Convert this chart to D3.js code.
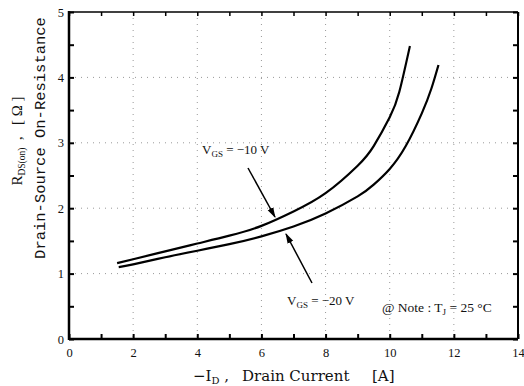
<!DOCTYPE html>
<html>
<head>
<meta charset="utf-8">
<script src="https://cdn.jsdelivr.net/npm/d3@7"></script>
<style>
  body { margin: 0; background: #fff; }
  text { fill: #111; }
</style>
</head>
<body>
<script>
// data
var vgs10X = [1.5, 2, 3, 4, 5, 6, 7, 8, 9, 9.5, 10, 10.3, 10.63];
var vgs10Y = [1.16, 1.22, 1.34, 1.46, 1.58, 1.73, 1.95, 2.23, 2.65, 2.95, 3.39, 3.78, 4.48];
var vgs20X = [1.55, 2, 3, 4, 5, 6, 7, 8, 9, 9.5, 10, 10.5, 11, 11.3, 11.52];
var vgs20Y = [1.1, 1.14, 1.25, 1.35, 1.45, 1.57, 1.72, 1.92, 2.18, 2.36, 2.6, 2.95, 3.45, 3.83, 4.19];
var xTicks = [0, 2, 4, 6, 8, 10, 12, 14];
var yTicks = [0, 1, 2, 3, 4, 5];

var W = 524, H = 386;
var svg = d3.select("body").append("svg")
  .attr("width", W)
  .attr("height", H);

var x = d3.scaleLinear().domain([0, 14]).range([69, 518]);
var y = d3.scaleLinear().domain([0, 5]).range([339, 12]);

var serif = "'Liberation Serif', 'DejaVu Serif', serif";
var wide = "'DejaVu Serif', serif";
var mono = "'Liberation Mono', 'DejaVu Sans Mono', monospace";

// dotted grid
svg.append("g").selectAll("line")
  .data(xTicks.slice(1, -1))
  .enter().append("line")
    .attr("x1", function (d) { return x(d); })
    .attr("x2", function (d) { return x(d); })
    .attr("y1", y(5)).attr("y2", y(0))
    .attr("stroke", "#999").attr("stroke-width", 1)
    .attr("stroke-dasharray", "1,5");
svg.append("g").selectAll("line")
  .data(yTicks.slice(1, -1))
  .enter().append("line")
    .attr("y1", function (d) { return y(d); })
    .attr("y2", function (d) { return y(d); })
    .attr("x1", x(0)).attr("x2", x(14))
    .attr("stroke", "#999").attr("stroke-width", 1)
    .attr("stroke-dasharray", "1,5");

// axes with inward ticks
var xMinor = d3.range(0, 15, 1);
var yMinor = d3.range(0, 5.01, 0.5);

svg.append("g")
  .attr("transform", "translate(0," + y(0) + ")")
  .call(d3.axisBottom(x).tickValues(xMinor).tickSize(-5).tickFormat(""))
  .call(function (g) { g.select(".domain").remove(); g.selectAll("line").attr("stroke-width", 2); });
svg.append("g")
  .attr("transform", "translate(0," + y(5) + ")")
  .call(d3.axisTop(x).tickValues(xMinor).tickSize(-4).tickFormat(""))
  .call(function (g) { g.select(".domain").remove(); g.selectAll("line").attr("stroke-width", 1.5); });
svg.append("g")
  .attr("transform", "translate(" + x(0) + ",0)")
  .call(d3.axisLeft(y).tickValues(yMinor).tickSize(-5).tickFormat(""))
  .call(function (g) { g.select(".domain").remove(); g.selectAll("line").attr("stroke-width", 2); });
svg.append("g")
  .attr("transform", "translate(" + x(14) + ",0)")
  .call(d3.axisRight(y).tickValues(yMinor).tickSize(-5).tickFormat(""))
  .call(function (g) { g.select(".domain").remove(); g.selectAll("line").attr("stroke-width", 2); });

// tick labels
svg.append("g")
  .attr("transform", "translate(0," + y(0) + ")")
  .call(d3.axisBottom(x).tickValues(xTicks).tickSize(0).tickPadding(9).tickFormat(d3.format("d")))
  .call(function (g) {
    g.select(".domain").remove();
    g.selectAll("text").attr("font-family", serif).attr("font-size", 12.5).attr("fill", "#111");
  });
svg.append("g")
  .attr("transform", "translate(" + x(0) + ",0)")
  .call(d3.axisLeft(y).tickValues(yTicks).tickSize(0).tickPadding(5).tickFormat(d3.format("d")))
  .call(function (g) {
    g.select(".domain").remove();
    g.selectAll("text").attr("font-family", serif).attr("font-size", 12.5).attr("fill", "#111");
  });

// frame
svg.append("line").attr("x1", x(0)).attr("x2", x(0)).attr("y1", y(5) - 1).attr("y2", y(0) + 1)
  .attr("stroke", "#000").attr("stroke-width", 2.5);
svg.append("line").attr("x1", x(0)).attr("x2", x(14)).attr("y1", y(0)).attr("y2", y(0))
  .attr("stroke", "#000").attr("stroke-width", 2.5);
svg.append("line").attr("x1", x(0)).attr("x2", x(14)).attr("y1", y(5)).attr("y2", y(5))
  .attr("stroke", "#000").attr("stroke-width", 1.5);
svg.append("line").attr("x1", x(14)).attr("x2", x(14)).attr("y1", y(5)).attr("y2", y(0))
  .attr("stroke", "#000").attr("stroke-width", 2);

// curves
var line = d3.line()
  .x(function (d) { return x(d[0]); })
  .y(function (d) { return y(d[1]); })
  .curve(d3.curveNatural);

[[vgs10X, vgs10Y], [vgs20X, vgs20Y]].forEach(function (s) {
  svg.append("path")
    .datum(d3.zip(s[0], s[1]))
    .attr("d", line)
    .attr("fill", "none")
    .attr("stroke", "#000")
    .attr("stroke-width", 2.2);
});

// arrows
svg.append("defs").append("marker")
  .attr("id", "arr")
  .attr("viewBox", "0 0 10 10")
  .attr("refX", 9).attr("refY", 5)
  .attr("markerWidth", 7).attr("markerHeight", 7)
  .attr("orient", "auto")
  .append("path").attr("d", "M0,2 L10,5 L0,8 Z").attr("fill", "#000");

svg.append("line")
  .attr("x1", 248).attr("y1", 168).attr("x2", 275).attr("y2", 217)
  .attr("stroke", "#000").attr("stroke-width", 1.5).attr("marker-end", "url(#arr)");
svg.append("line")
  .attr("x1", 312).attr("y1", 283).attr("x2", 286).attr("y2", 234)
  .attr("stroke", "#000").attr("stroke-width", 1.5).attr("marker-end", "url(#arr)");

// annotations
function vgsLabel(px, py, val) {
  var t = svg.append("text").attr("x", px).attr("y", py)
    .attr("font-family", serif).attr("font-size", 13);
  t.append("tspan").text("V");
  t.append("tspan").attr("font-size", 9).attr("dy", 3).text("GS");
  t.append("tspan").attr("dy", -3).text(" = " + val + " V");
}
vgsLabel(202, 154, "\u221210");
vgsLabel(287, 305, "\u221220");

var note = svg.append("text").attr("x", 382).attr("y", 312)
  .attr("font-family", serif).attr("font-size", 13.5);
note.append("tspan").text("@ Note : T");
note.append("tspan").attr("font-size", 9).attr("dy", 3).text("J");
note.append("tspan").attr("dy", -3).text(" = 25 \u00B0C");

// axis titles
var xt = svg.append("text").attr("x", 193).attr("y", 381)
  .attr("font-family", wide).attr("font-size", 15);
xt.append("tspan").text("\u2212I");
xt.append("tspan").attr("font-size", 10).attr("dy", 3).text("D");
xt.append("tspan").attr("dy", -3).text(" ,");
svg.append("text").attr("x", 242).attr("y", 381)
  .attr("font-family", wide).attr("font-size", 15).text("Drain Current");
svg.append("text").attr("x", 372).attr("y", 381)
  .attr("font-family", wide).attr("font-size", 15).text("[A]");

var yt = svg.append("text")
  .attr("transform", "translate(22,141) rotate(-90)")
  .attr("text-anchor", "middle")
  .attr("font-family", serif).attr("font-size", 15);
yt.append("tspan").text("R");
yt.append("tspan").attr("font-size", 9.5).attr("dy", 3).text("DS(on)");
yt.append("tspan").attr("dy", -3).attr("xml:space", "preserve").text("  ,   [ \u03A9 ]");

svg.append("text")
  .attr("transform", "translate(45,138) rotate(-90)")
  .attr("text-anchor", "middle")
  .attr("font-family", mono).attr("font-size", 15.5)
  .text("Drain-Source On-Resistance");
</script>
</body>
</html>
